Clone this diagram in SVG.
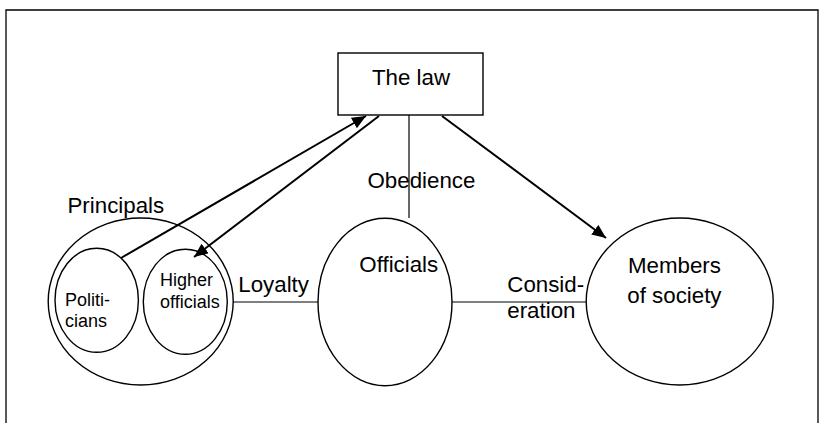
<svg xmlns="http://www.w3.org/2000/svg" width="826" height="423" viewBox="0 0 826 423">
<style>
  .bg{fill:#fff}
  .frame{fill:none;stroke:#000;stroke-width:1.3}
  .node{fill:#fff;stroke:#000;stroke-width:1.4}
  .big{font-family:"Liberation Sans",Arial,sans-serif;font-size:22.3px;fill:#000}
  .small{font-family:"Liberation Sans",Arial,sans-serif;font-size:18px;fill:#000}
  .line{stroke:#000;stroke-width:1.2;fill:none}
  .arrow{stroke:#000;stroke-width:2;fill:none;marker-end:url(#ah)}
</style>
<defs>
  <marker id="ah" markerUnits="userSpaceOnUse" markerWidth="16" markerHeight="12" refX="14" refY="6" orient="auto">
    <path d="M0,0 L14,6 L0,12 Z" fill="#000"/>
  </marker>
</defs>
<rect class="bg" x="0" y="0" width="826" height="423"/>
<path class="frame" d="M6,430 L6,10 L818,10 L818,430"/>

<g id="law">
  <rect class="node" x="338" y="53" width="145" height="62"/>
  <text class="big" x="411" y="84.5" text-anchor="middle">The law</text>
</g>

<g id="obedience-label">
  <text class="big" x="367.5" y="187.5">Obedience</text>
</g>

<g id="principals">
  <ellipse class="node" cx="140.7" cy="301.5" rx="92.5" ry="83.5"/>
  <text class="big" x="67.5" y="212.7">Principals</text>
</g>

<g id="politicians">
  <ellipse class="node" cx="96.7" cy="300.3" rx="41.7" ry="52"/>
  <text class="small" x="65" y="305.7">Politi-</text>
  <text class="small" x="65" y="326.7">cians</text>
</g>

<g id="higher-officials">
  <ellipse class="node" cx="185.3" cy="301.8" rx="42" ry="52.5"/>
  <text class="small" x="160" y="286">Higher</text>
  <text class="small" x="160" y="308.3">officials</text>
</g>

<g id="loyalty-label">
  <text class="big" x="238.3" y="291.7">Loyalty</text>
</g>

<g id="officials">
  <ellipse class="node" cx="385" cy="302" rx="67" ry="83.7"/>
  <text class="big" x="359.3" y="272.3">Officials</text>
</g>

<g id="consideration-label">
  <text class="big" x="507.3" y="291.7">Consid-</text>
  <text class="big" x="507.3" y="318.3">eration</text>
</g>

<g id="members">
  <ellipse class="node" cx="679.7" cy="301.5" rx="93.5" ry="83.5"/>
  <text class="big" x="628" y="273.3">Members</text>
  <text class="big" x="627.3" y="302.7">of society</text>
</g>

<g id="connectors">
  <line class="line" x1="409" y1="115" x2="409" y2="218"/>
  <line class="line" x1="233" y1="302" x2="318" y2="302"/>
  <line class="line" x1="452" y1="302" x2="586" y2="302"/>
  <line class="arrow" x1="121" y1="258" x2="366" y2="116"/>
  <line class="arrow" x1="379" y1="116" x2="194" y2="257"/>
  <line class="arrow" x1="442" y1="116" x2="606" y2="238"/>
</g>
</svg>
